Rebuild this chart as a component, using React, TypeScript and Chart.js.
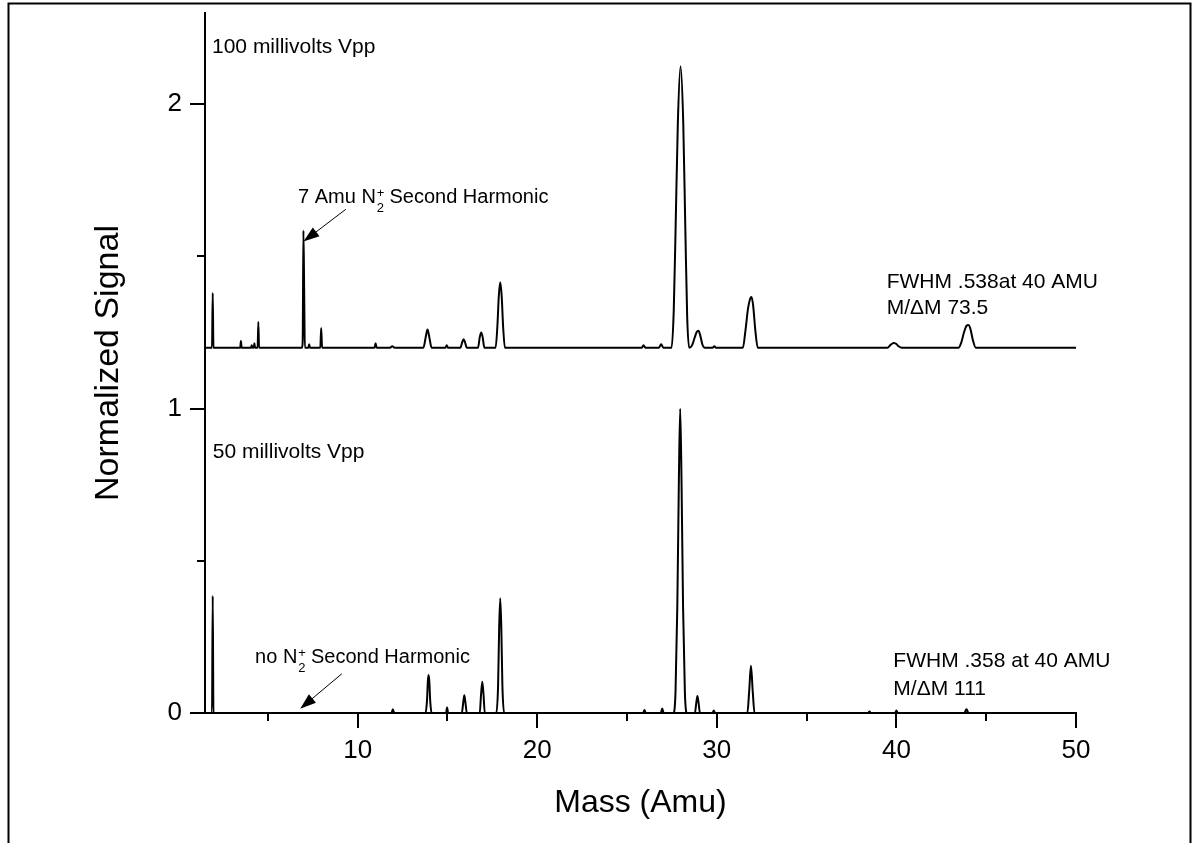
import React, { useEffect, useRef } from 'react';
import { Chart, registerables } from 'chart.js';

Chart.register(...registerables);

// ---- Data ----
const massTop = [
  1.5, 1.89, 1.93, 1.97,
  3.46, 3.5, 3.54,
  4.06, 4.1, 4.14,
  4.21, 4.25, 4.29,
  4.43, 4.47, 4.51,
  6.9, 6.94, 6.98, 7.02, 7.06,
  7.26, 7.3, 7.34,
  7.92, 7.97, 8.02,
  10.94, 11.0, 11.06,
  11.8, 11.93, 12.06,
  13.66, 13.79, 13.89, 13.99, 14.12,
  14.88, 14.96, 15.04,
  15.72, 15.82, 15.9, 15.98, 16.08,
  16.7, 16.8, 16.88, 16.96, 17.06,
  17.68, 17.78, 17.86, 17.94, 18.02, 18.1, 18.2,
  25.82, 25.92, 26.02,
  26.78, 26.9, 27.02,
  27.48, 27.6, 27.7, 27.83, 27.98, 28.13, 28.25, 28.35, 28.46,
  28.62, 28.76, 28.88, 28.98, 29.08, 29.2, 29.34,
  29.76, 29.86, 29.96,
  31.45, 31.6, 31.74, 31.86, 31.93, 32.02, 32.14, 32.28,
  39.5, 39.68, 39.84, 39.96, 40.12, 40.3,
  43.45, 43.6, 43.76, 43.9, 44.01, 44.12, 44.26, 44.42,
  50,
];
const signalTop = [
  1.2, 1.2, 1.38, 1.2,
  1.2, 1.222, 1.2,
  1.2, 1.208, 1.2,
  1.2, 1.215, 1.2,
  1.2, 1.285, 1.2,
  1.2, 1.22, 1.585, 1.4, 1.2,
  1.2, 1.212, 1.2,
  1.2, 1.265, 1.2,
  1.2, 1.215, 1.2,
  1.2, 1.205, 1.2,
  1.2, 1.235, 1.26, 1.235, 1.2,
  1.2, 1.208, 1.2,
  1.2, 1.218, 1.228, 1.218, 1.2,
  1.2, 1.235, 1.25, 1.235, 1.2,
  1.2, 1.27, 1.37, 1.415, 1.37, 1.27, 1.2,
  1.2, 1.208, 1.2,
  1.2, 1.212, 1.2,
  1.2, 1.32, 1.58, 1.94, 2.125, 1.94, 1.58, 1.3, 1.2,
  1.208, 1.232, 1.252, 1.256, 1.24, 1.21, 1.2,
  1.2, 1.205, 1.2,
  1.2, 1.26, 1.33, 1.362, 1.367, 1.34, 1.26, 1.2,
  1.2, 1.21, 1.216, 1.214, 1.205, 1.2,
  1.2, 1.215, 1.25, 1.272, 1.275, 1.262, 1.225, 1.2,
  1.2,
];

const massBottom = [
  1.5, 1.89, 1.93, 1.97,
  11.88, 11.96, 12.04,
  13.78, 13.86, 13.91, 13.95, 13.99, 14.04, 14.12,
  14.92, 14.98, 15.04,
  15.8, 15.88, 15.94, 16.0, 16.08,
  16.8, 16.87, 16.94, 17.01, 17.08,
  17.72, 17.82, 17.88, 17.94, 18.0, 18.06, 18.16,
  25.9, 25.97, 26.04,
  26.88, 26.96, 27.04,
  27.58, 27.7, 27.8, 27.89, 27.96, 28.03, 28.12, 28.22, 28.34,
  28.78, 28.86, 28.92, 28.98, 29.06,
  29.76, 29.83, 29.9,
  31.7, 31.8, 31.9, 32.0, 32.1,
  38.42, 38.5, 38.58,
  39.92, 40.0, 40.08,
  43.78, 43.9, 44.02,
  50,
];
const signalBottom = [
  0, 0, 0.385, 0,
  0, 0.012, 0,
  0, 0.04, 0.105, 0.125, 0.105, 0.04, 0,
  0, 0.018, 0,
  0, 0.035, 0.058, 0.035, 0,
  0, 0.06, 0.103, 0.06, 0,
  0, 0.09, 0.28, 0.377, 0.28, 0.09, 0,
  0, 0.01, 0,
  0, 0.015, 0,
  0, 0.07, 0.35, 0.78, 1.0, 0.78, 0.35, 0.07, 0,
  0, 0.035, 0.056, 0.035, 0,
  0, 0.008, 0,
  0, 0.07, 0.155, 0.07, 0,
  0, 0.005, 0,
  0, 0.008, 0,
  0, 0.012, 0,
  0,
];

const xMinorTicks = [5, 15, 25, 35, 45];
const yMinorTicks = [0.5, 1.5];

const FONT = '"Liberation Sans", Arial, Helvetica, sans-serif';

function drawArrow(ctx: CanvasRenderingContext2D, x1: number, y1: number, x2: number, y2: number) {
  const ang = Math.atan2(y2 - y1, x2 - x1);
  const headLen = 16;
  const headHalf = 5.5;
  ctx.beginPath();
  ctx.lineWidth = 1;
  ctx.moveTo(x1, y1);
  ctx.lineTo(x2 - Math.cos(ang) * headLen * 0.8, y2 - Math.sin(ang) * headLen * 0.8);
  ctx.stroke();
  const bx = x2 - Math.cos(ang) * headLen;
  const by = y2 - Math.sin(ang) * headLen;
  ctx.beginPath();
  ctx.moveTo(x2, y2);
  ctx.lineTo(bx + Math.sin(ang) * headHalf, by - Math.cos(ang) * headHalf);
  ctx.lineTo(bx - Math.sin(ang) * headHalf, by + Math.cos(ang) * headHalf);
  ctx.closePath();
  ctx.fill();
}

function drawN2Text(ctx: CanvasRenderingContext2D, x: number, y: number, prefix: string, suffix: string, size: number) {
  ctx.font = `${size}px ${FONT}`;
  ctx.fillText(prefix, x, y);
  let cx = x + ctx.measureText(prefix).width;
  const small = Math.round(size * 0.65);
  ctx.font = `${small}px ${FONT}`;
  ctx.fillText('2', cx + 1, y + 9);
  ctx.fillText('+', cx + 1, y - 6);
  const w = Math.max(ctx.measureText('2').width, ctx.measureText('+').width);
  cx += w + 6;
  ctx.font = `${size}px ${FONT}`;
  ctx.fillText(suffix, cx, y);
}

const annotationPlugin = {
  id: 'annotationPlugin',
  afterDraw(chart: any) {
    const ctx: CanvasRenderingContext2D = chart.ctx;
    const xs = chart.scales.x;
    const ys = chart.scales.y;
    const X = (v: number) => xs.getPixelForValue(v);
    const Y = (v: number) => ys.getPixelForValue(v);
    const ca = chart.chartArea;
    ctx.save();
    ctx.strokeStyle = '#000';
    ctx.fillStyle = '#000';
    ctx.lineWidth = 2;
    // minor ticks
    for (const v of xMinorTicks) {
      const px = Math.round(X(v));
      ctx.beginPath();
      ctx.moveTo(px, ca.bottom);
      ctx.lineTo(px, ca.bottom + 8);
      ctx.stroke();
    }
    for (const v of yMinorTicks) {
      const py = Math.round(Y(v));
      ctx.beginPath();
      ctx.moveTo(ca.left, py);
      ctx.lineTo(ca.left - 8, py);
      ctx.stroke();
    }
    // texts
    ctx.textAlign = 'left';
    ctx.textBaseline = 'alphabetic';
    ctx.font = `21px ${FONT}`;
    ctx.fillText('100 millivolts Vpp', X(1.89), Y(2.168));
    ctx.fillText('50 millivolts Vpp', X(1.93), Y(0.838));
    ctx.fillText('FWHM .538at 40 AMU', X(39.46), Y(1.398));
    ctx.fillText('M/\u0394M 73.5', X(39.46), Y(1.311));
    ctx.fillText('FWHM .358 at 40 AMU', X(39.83), Y(0.15));
    ctx.fillText('M/\u0394M 111', X(39.83), Y(0.06));

    drawN2Text(ctx, X(6.68), Y(1.677), '7 Amu N', 'Second Harmonic', 20);
    drawN2Text(ctx, X(4.29), Y(0.164), 'no N', 'Second Harmonic', 20);

    drawArrow(ctx, X(9.34), Y(1.655), X(6.98), Y(1.549));
    drawArrow(ctx, X(9.12), Y(0.129), X(6.8), Y(0.014));

    // outer frame
    ctx.lineWidth = 2;
    ctx.strokeRect(8.5, 3.5, 1182, 900);
    ctx.restore();
  },
};

export default function App() {
  const canvasRef = useRef<HTMLCanvasElement | null>(null);

  useEffect(() => {
    const canvas = canvasRef.current;
    if (!canvas) return;
    const topData = massTop.map((m, i) => ({ x: m, y: signalTop[i] }));
    const bottomData = massBottom.map((m, i) => ({ x: m, y: signalBottom[i] }));

    const chart = new Chart(canvas, {
      type: 'line',
      data: {
        datasets: [
          {
            label: '100 millivolts Vpp',
            data: topData,
            borderColor: '#000',
            borderWidth: 2,
            pointRadius: 0,
            fill: false,
            cubicInterpolationMode: 'monotone',
          },
          {
            label: '50 millivolts Vpp',
            data: bottomData,
            borderColor: '#000',
            borderWidth: 2,
            pointRadius: 0,
            fill: false,
            cubicInterpolationMode: 'monotone',
          },
        ],
      },
      options: {
        responsive: false,
        animation: false,
        devicePixelRatio: 1,
        layout: { padding: { left: 0, top: 13, right: 123, bottom: 0 } },
        plugins: {
          legend: { display: false },
          tooltip: { enabled: false },
        },
        scales: {
          x: {
            type: 'linear',
            min: 1.5,
            max: 50,
            ticks: {
              stepSize: 10,
              includeBounds: false,
              color: '#000',
              font: { family: FONT, size: 26 },
              padding: 7,
              maxRotation: 0,
              autoSkip: false,
            },
            grid: { drawOnChartArea: false, drawTicks: true, tickLength: 15, color: '#000', lineWidth: 2 },
            border: { display: true, color: '#000', width: 2 },
            title: {
              display: true,
              text: 'Mass (Amu)',
              color: '#000',
              font: { family: FONT, size: 32 },
              padding: { top: 0, bottom: 21 },
            },
            afterFit: (s: any) => {
              s.height = 130;
              s.paddingLeft = 0;
              s.paddingRight = 0;
            },
          },
          y: {
            type: 'linear',
            min: 0,
            max: 2.3,
            ticks: {
              stepSize: 1,
              includeBounds: false,
              color: '#000',
              font: { family: FONT, size: 26 },
              padding: 8,
            },
            grid: { drawOnChartArea: false, drawTicks: true, tickLength: 15, color: '#000', lineWidth: 2 },
            border: { display: true, color: '#000', width: 2 },
            title: {
              display: true,
              text: 'Normalized Signal',
              color: '#000',
              font: { family: FONT, size: 34 },
              padding: { top: 88, bottom: 0 },
            },
            afterFit: (s: any) => {
              s.width = 205;
              s.paddingTop = 0;
              s.paddingBottom = 0;
            },
          },
        },
      } as any,
      plugins: [annotationPlugin],
    });
    return () => chart.destroy();
  }, []);

  return (
    <div style={{ position: 'absolute', left: 0, top: 0, width: 1199, height: 843, background: '#fff' }}>
      <canvas ref={canvasRef} width={1199} height={843} style={{ display: 'block' }} />
    </div>
  );
}
